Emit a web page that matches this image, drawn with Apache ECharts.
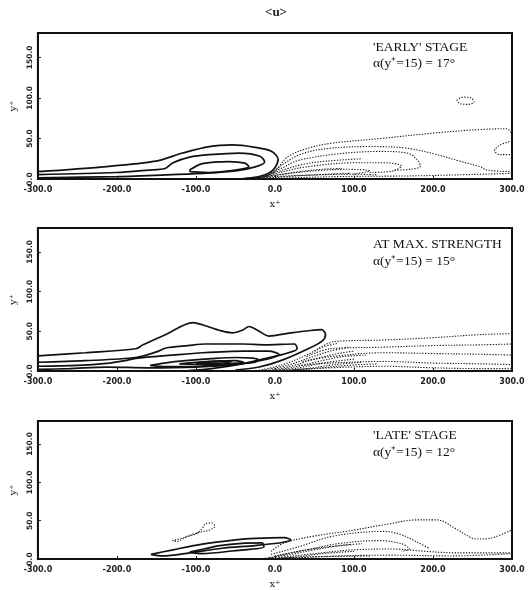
<!DOCTYPE html>
<html><head><meta charset="utf-8">
<script src="https://cdn.jsdelivr.net/npm/echarts@6/dist/echarts.min.js"></script>
<style>html,body{margin:0;padding:0;background:#fff}#c{width:528px;height:590px}</style>
</head><body><div id="c"></div>
<script>
const xTicks = [-300,-200,-100,0,100,200,300];
const yTicks = [0,50,100,150];
const panelTitles = ["'EARLY' STAGE", "AT MAX. STRENGTH", "'LATE' STAGE"];
const panelAngles = ["\u03b1(y\u207a=15) = 17\u00b0", "\u03b1(y\u207a=15) = 15\u00b0", "\u03b1(y\u207a=15) = 12\u00b0"];

// ---- Panel 1: 'EARLY' stage ----
const earlyPosOuter = [[-300,9],[-217,15],[-151,22],[-117,32],[-83,40],[-54,42],[-25,39],[-4,34],[4,24],[0,14],[-8,7],[-20,3],[-40,0.5]];
const earlyPosMid = [[-300,5.5],[-201,8],[-160,11],[-139,13],[-129,20],[-108,27],[-83,30],[-45,32],[-19,28],[-13,21],[-25,15],[-50,10],[-92,7],[-139,5],[-200,3],[-300,1.5]];
const earlyPosInner = [[-108,11],[-92,19],[-58,21.5],[-38,19.5],[-33,15],[-50,11],[-83,8],[-107,9],[-108,11]];
const earlyNeg1 = [[-5,4],[5,15],[17,28],[42,38],[71,44],[134,50],[205,57],[260,61],[293,62],[300,56]];
const earlyNeg2 = [[300,47],[285,42],[278,35],[285,30],[300,30]];
const earlyNeg3 = [[-10,3],[10,18],[34,31],[71,38],[121,40],[167,38],[205,30],[234,22],[260,15],[268,11],[300,9]];
const earlyNeg4 = [[-15,2],[10,14],[30,23],[80,31],[134,34],[167,32],[180,24],[184,16],[172,12],[150,11]];
const earlyNeg5 = [[-20,1.5],[10,9],[40,15],[100,20],[140,20],[160,16],[150,10],[120,8]];
const earlyNeg6 = [[-30,1],[10,6],[50,10],[90,12],[120,10],[100,6]];
const earlyNeg7 = [[-40,0.5],[0,3],[50,5],[100,6],[130,5]];
const earlyNeg8 = [[-10,0.5],[40,2],[80,3],[184,4],[300,7]];
const earlyNeg9 = [[-25,1],[5,5],[30,9],[60,12],[85,13]];
const earlyNeg10 = [[-35,0.5],[0,2],[30,4],[70,6],[95,7]];
const earlyNeg11 = [[-18,2],[10,11],[35,18],[65,22],[110,25]];
const earlyNegLoop = [[230,97],[238,101],[248,100],[252,95],[244,92],[234,93],[230,97]];

// ---- Panel 2: at max. strength ----
const maxPos1 = [[-300,19],[-240,23],[-176,28],[-167,33],[-138,46],[-104,61],[-85,56],[-70,51],[-54,48],[-40,52],[-33,56],[-20,50],[-8,44],[20,48],[45,51],[59,52],[64,46],[60,38],[40,27],[10,14],[-20,5],[-50,1]];
const maxPos2 = [[-300,11],[-240,13],[-176,17],[-150,24],[-138,29],[-110,32],[-88,34],[-40,34],[-13,33],[25,34],[28,28],[10,21],[-20,14],[-42,9],[-80,3],[-110,0.5]];
const maxPos3 = [[-300,6],[-250,7],[-213,9.5],[-190,13],[-176,16],[-130,20],[-92,23],[-40,25],[-8,25],[5,21],[-10,15],[-50,8],[-100,5],[-160,4],[-213,5],[-260,3],[-300,2]];
const maxPos4 = [[-158,7],[-140,10],[-113,13],[-80,15.5],[-50,17],[-22,15],[-25,11],[-60,8],[-100,6],[-140,5.5],[-158,7]];
const maxPos5 = [[-121,9],[-100,11],[-75,12.5],[-50,13],[-40,11],[-60,9],[-90,8.5],[-121,9]];
const maxPos6 = [[-100,10],[-85,11.5],[-70,12.5],[-55,11.5],[-70,10],[-90,9.5],[-100,10]];
const maxNeg1 = [[50,25],[75,37],[138,39],[201,42],[263,46],[300,47]];
const maxNeg2 = [[40,18],[70,28],[138,30],[200,32],[263,33],[300,34]];
const maxNeg3 = [[35,12],[70,18],[138,23],[200,22],[263,21],[300,20]];
const maxNeg4 = [[30,7],[70,10],[138,12],[200,10],[263,9],[300,8]];
const maxNeg5 = [[25,2],[70,4],[138,6],[200,4],[263,3],[300,3]];
const maxNeg6 = [[-20,1],[10,8],[40,20],[60,30],[80,35]];
const maxNeg7 = [[-10,0.5],[20,6],[50,15],[80,22],[100,25]];
const maxNeg8 = [[0,0.5],[30,4],[60,10],[100,15]];
const maxNeg9 = [[10,0.5],[50,3],[90,7],[130,9]];
const maxNeg10 = [[-15,1],[15,7],[45,17],[70,25],[95,30]];
const maxNeg11 = [[-5,0.5],[25,5],[55,12],[85,18],[115,20]];
const maxNeg12 = [[5,0.5],[40,3],[75,8],[110,11]];

// ---- Panel 3: 'LATE' stage ----
const latePos1 = [[-157,6],[-129,12],[-92,19.5],[-50,25],[-25,27],[12,28],[20,25],[9,21.5],[-25,17.5],[-67,14],[-108,8],[-142,4],[-157,6]];
const latePos2 = [[-108,9],[-90,13],[-70,17.5],[-42,20.5],[-16,21],[-14,15.5],[-50,11],[-92,7],[-108,9]];
const lateNegLoop = [[-130,24],[-115,28],[-100,33],[-92,40],[-88,46],[-80,47],[-76,43],[-82,38],[-95,35],[-110,30],[-125,23],[-130,24]];
const lateNeg1 = [[-5,10],[12,21],[50,30],[96,37],[140,45],[180,51],[205,51],[231,38],[256,26],[272,27],[300,38]];
const lateNeg2 = [[-5,6],[30,16],[75,30],[138,36],[159,32],[180,22],[195,14]];
const lateNeg3 = [[0,4],[40,12],[80,20],[130,24],[160,20],[170,13],[160,10]];
const lateNeg4 = [[5,2],[50,7],[100,12],[150,13],[190,10],[230,8],[300,8]];
const lateNeg5 = [[20,1],[80,4],[150,5],[222,4],[300,7]];
const lateNeg6 = [[-10,1],[20,6],[50,12],[80,17],[110,20]];
const lateNeg7 = [[0,0.5],[30,3],[60,7],[100,10]];
const lateNeg8 = [[-20,0.5],[20,2],[60,3],[120,4]];
const lateNeg9 = [[-8,1.5],[25,9],[60,15],[95,19]];

const panels = [
  {pos:[earlyPosOuter,earlyPosMid,earlyPosInner], neg:[earlyNeg1,earlyNeg2,earlyNeg3,earlyNeg4,earlyNeg5,earlyNeg6,earlyNeg7,earlyNeg8,earlyNeg9,earlyNeg10,earlyNeg11,earlyNegLoop]},
  {pos:[maxPos1,maxPos2,maxPos3,maxPos4,maxPos5,maxPos6], neg:[maxNeg1,maxNeg2,maxNeg3,maxNeg4,maxNeg5,maxNeg6,maxNeg7,maxNeg8,maxNeg9,maxNeg10,maxNeg11,maxNeg12]},
  {pos:[latePos1,latePos2], neg:[lateNegLoop,lateNeg1,lateNeg2,lateNeg3,lateNeg4,lateNeg5,lateNeg6,lateNeg7,lateNeg8,lateNeg9]}
];

const grids = [
  {left:34, top:33, width:478, height:146},
  {left:34, top:228, width:478, height:143},
  {left:34, top:421, width:478, height:143}
].map(g => Object.assign({show:true, borderColor:'#111', borderWidth:2, backgroundColor:'transparent'}, g));

const xAxes = grids.map((g,i) => ({
  gridIndex:i, type:'value', min:xTicks[0], max:xTicks[xTicks.length-1], interval:100,
  axisLine:{show:true, onZero:false, lineStyle:{color:'#111', width:2}},
  axisTick:{show:true, inside:true, length:3, lineStyle:{color:'#111'}},
  splitLine:{show:false},
  axisLabel:{formatter:v=>v.toFixed(1), fontSize:8, fontWeight:'bold', color:'#222', margin:7, fontFamily:'DejaVu Sans'},
  name:'x\u207a', nameLocation:'middle', nameGap:20,
  nameTextStyle:{fontSize:10, color:'#222', fontFamily:'DejaVu Serif'}
}));
const yAxes = grids.map((g,i) => ({
  gridIndex:i, type:'value', min:0, max:180, interval:50,
  axisLine:{show:true, onZero:false, lineStyle:{color:'#111', width:2}},
  axisTick:{show:true, inside:true, length:3, lineStyle:{color:'#111'}},
  splitLine:{show:false},
  axisLabel:{rotate:90, formatter:v=>yTicks.includes(v)?v.toFixed(1):'', fontSize:7.5, fontWeight:'bold', color:'#222', margin:4, fontFamily:'DejaVu Sans'},
  name:'y\u207a', nameLocation:'middle', nameRotate:90, nameGap:19,
  nameTextStyle:{fontSize:10, color:'#222', fontFamily:'DejaVu Serif'}
}));

const series = [];
panels.forEach((p,gi) => {
  p.neg.forEach(d => series.push({type:'line', xAxisIndex:gi, yAxisIndex:gi, data:d, showSymbol:false, smooth:0.35, silent:true, z:2,
    lineStyle:{color:'#1a1a1a', width:1.1, type:[1.3,1.5]}}));
  p.pos.forEach(d => series.push({type:'line', xAxisIndex:gi, yAxisIndex:gi, data:d, showSymbol:false, smooth:0.3, silent:true, z:3,
    lineStyle:{color:'#111', width:1.7}}));
});

const textTops = [[40,56],[237,254],[428,445]];
const graphic = [{type:'text', x:276, y:13, style:{text:'<u>', font:'bold 13px "Liberation Serif"', fill:'#222', textAlign:'center', textVerticalAlign:'middle'}}];
textTops.forEach((t,i) => {
  graphic.push({type:'text', x:373, y:t[0], style:{text:panelTitles[i], font:'13.5px "Liberation Serif"', fill:'#111'}});
  graphic.push({type:'text', x:373, y:t[1], style:{text:panelAngles[i], font:'13.5px "Liberation Serif"', fill:'#111'}});
});

const chart = echarts.init(document.getElementById('c'), null, {renderer:'canvas'});
chart.setOption({
  animation:false, backgroundColor:'#fff',
  grid:grids, xAxis:xAxes, yAxis:yAxes, series, graphic
});
</script></body></html>
